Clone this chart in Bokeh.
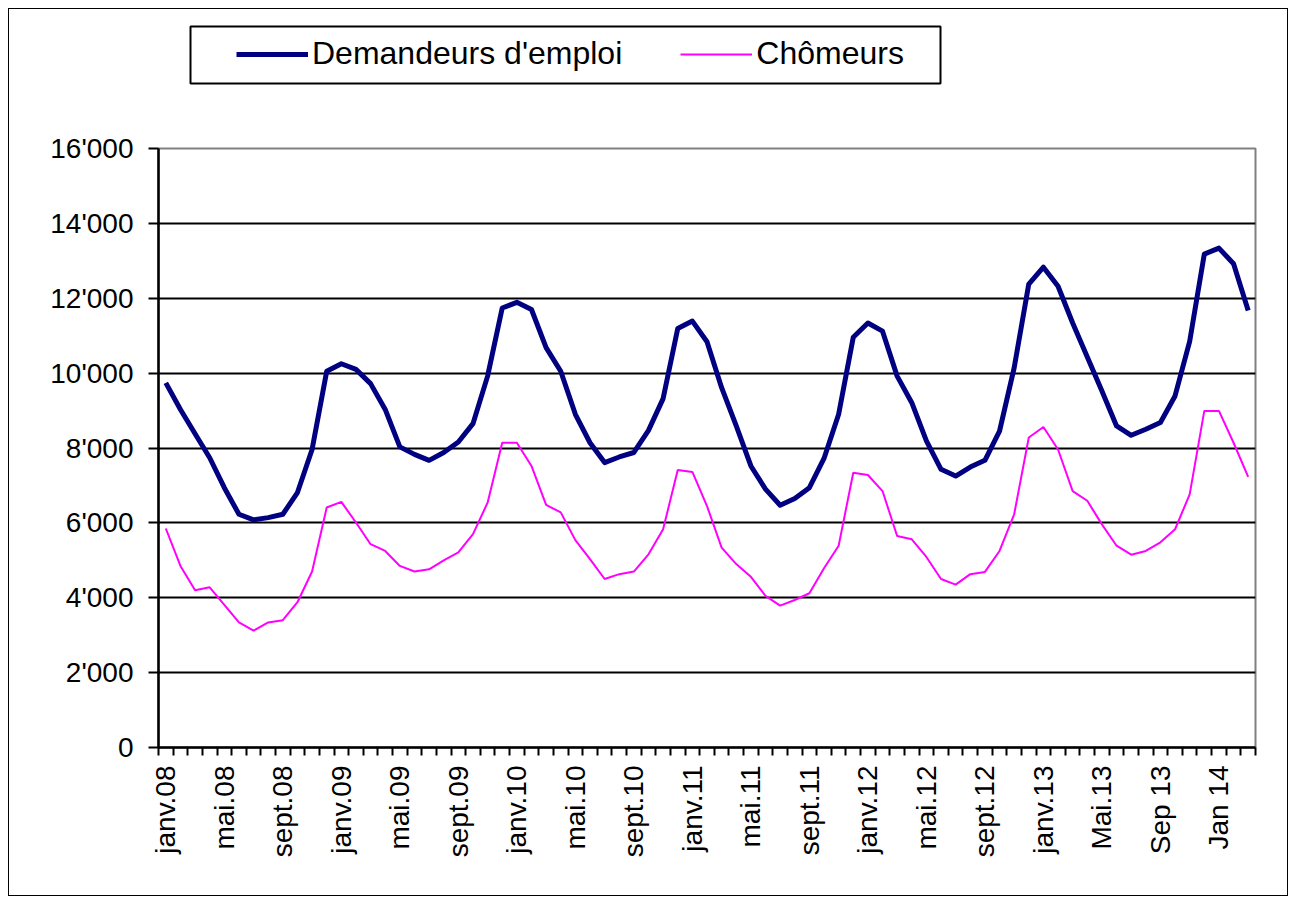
import math
from bokeh.plotting import figure
from bokeh.layouts import column
from bokeh.models import Range1d, FixedTicker, Legend, LegendItem, BoxAnnotation
from bokeh.embed import file_html
from bokeh.resources import INLINE

# ---- data ----
demandeurs = [9740, 9030, 8380, 7740, 6940, 6230, 6080, 6140, 6230, 6810, 7960, 10050,
              10250, 10100, 9720, 9030, 8030, 7830, 7670, 7880, 8160, 8650, 9920, 11740,
              11890, 11700, 10680, 10050, 8900, 8140, 7610, 7760, 7880, 8470, 9320, 11190,
              11390, 10840, 9610, 8590, 7520, 6900, 6470, 6650, 6940, 7720, 8900, 10960,
              11340, 11120, 9920, 9210, 8190, 7430, 7250, 7490, 7670, 8450, 10140, 12380,
              12830, 12320, 11340, 10430, 9520, 8590, 8340, 8500, 8680, 9390, 10850, 13180,
              13340, 12920, 11670]
chomeurs = [5850, 4850, 4200, 4280, 3810, 3340, 3120, 3340, 3400, 3880, 4700, 6410,
            6560, 6010, 5430, 5250, 4850, 4700, 4760, 5000, 5210, 5700, 6540, 8140,
            8140, 7520, 6480, 6280, 5540, 5030, 4500, 4630, 4700, 5160, 5830, 7410,
            7360, 6450, 5340, 4900, 4560, 4050, 3790, 3940, 4120, 4790, 5390, 7340,
            7280, 6850, 5650, 5560, 5090, 4500, 4350, 4630, 4690, 5250, 6230, 8280,
            8560, 7960, 6850, 6590, 5960, 5390, 5150, 5250, 5480, 5830, 6760, 8990,
            8990, 8140, 7230]
x_tick_labels = ["janv.08", "mai.08", "sept.08", "janv.09", "mai.09", "sept.09",
                 "janv.10", "mai.10", "sept.10", "janv.11", "mai.11", "sept.11",
                 "janv.12", "mai.12", "sept.12", "janv.13", "Mai.13", "Sep 13", "Jan 14"]
y_ticks = [0, 2000, 4000, 6000, 8000, 10000, 12000, 14000, 16000]
y_tick_labels = ["0", "2'000", "4'000", "6'000", "8'000", "10'000", "12'000", "14'000", "16'000"]
series_names = ["Demandeurs d'emploi", "Chômeurs"]
series_colors = ["#000080", "#FF00FF"]
series_widths = [5, 2]

n = len(demandeurs)
xs = list(range(n))
label_step = 4
x_major = [i * label_step for i in range(len(x_tick_labels))]

FONT = "Liberation Sans"
W = 1278
TOP_H = 100
MAIN_H = 786

# ---------- legend strip (top) ----------
lg = figure(width=W, height=TOP_H, output_backend="svg", toolbar_location=None,
            x_axis_type=None, y_axis_type=None, min_border=0,
            x_range=Range1d(0, W), y_range=Range1d(0, TOP_H))
lg.frame_align = False
lg.outline_line_color = None
lg.grid.grid_line_color = None
lg.background_fill_color = "white"
lg.border_fill_color = "white"
# the same series, lying outside this strip's range: only their legend glyphs show
d1 = lg.line(xs, demandeurs, line_color=series_colors[0], line_width=series_widths[0])
d2 = lg.line(xs, chomeurs, line_color=series_colors[1], line_width=series_widths[1])
lg.add_layout(BoxAnnotation(left=181, right=931, bottom=26, top=83,
                            fill_alpha=0, line_color="black", line_alpha=1,
                            line_width=2))
legend = Legend(items=[LegendItem(label=series_names[0], renderers=[d1]),
                       LegendItem(label=series_names[1], renderers=[d2])],
                location=(227, 37), orientation="horizontal",
                padding=0, margin=0, spacing=58, glyph_width=72, glyph_height=36,
                label_height=36, label_standoff=4, label_text_font=FONT,
                label_text_font_size="32px", label_text_color="black",
                border_line_alpha=0, background_fill_alpha=0)
lg.add_layout(legend)

# ---------- main chart ----------
p = figure(width=W, height=MAIN_H, output_backend="svg", toolbar_location=None,
           x_range=Range1d(-0.5, n - 0.5), y_range=Range1d(0, 16000),
           min_border_left=149, min_border_right=32, min_border_top=39,
           min_border_bottom=148)
p.frame_align = False
p.background_fill_color = "white"
p.border_fill_color = "white"
p.outline_line_color = "#808080"
p.outline_line_width = 2

p.xaxis.ticker = FixedTicker(ticks=x_major, minor_ticks=[i - 0.5 for i in range(n + 1)])
p.xaxis.major_label_overrides = {t: l for t, l in zip(x_major, x_tick_labels)}
p.xaxis.major_label_orientation = math.pi / 2
p.xaxis.major_tick_out = 0
p.xaxis.major_tick_in = 0
p.xaxis.minor_tick_out = 8
p.xaxis.minor_tick_in = 0
p.xaxis.minor_tick_line_color = "black"
p.xaxis.minor_tick_line_width = 2
p.xaxis.axis_line_color = "black"
p.xaxis.axis_line_width = 2.5
p.xaxis.major_label_standoff = 10
p.xaxis.major_label_text_font = FONT
p.xaxis.major_label_text_font_size = "28px"
p.xaxis.major_label_text_color = "black"

p.yaxis.ticker = FixedTicker(ticks=y_ticks, minor_ticks=[])
p.yaxis.major_label_overrides = {t: l for t, l in zip(y_ticks, y_tick_labels)}
p.yaxis.major_tick_out = 10
p.yaxis.major_tick_in = 0
p.yaxis.major_tick_line_width = 2
p.yaxis.major_tick_line_color = "black"
p.yaxis.axis_line_color = "black"
p.yaxis.axis_line_width = 2.5
p.yaxis.major_label_standoff = 15
p.yaxis.major_label_text_font = FONT
p.yaxis.major_label_text_font_size = "28px"
p.yaxis.major_label_text_color = "black"

p.xgrid.grid_line_color = None
p.ygrid.ticker = FixedTicker(ticks=y_ticks[1:-1])
p.ygrid.grid_line_color = "black"
p.ygrid.grid_line_width = 2

p.line(xs, demandeurs, line_color=series_colors[0], line_width=series_widths[0],
       line_join="round")
p.line(xs, chomeurs, line_color=series_colors[1], line_width=series_widths[1])

layout = column(lg, p, spacing=0,
                styles={"margin": "8px", "border": "1px solid black",
                        "background-color": "white"})

open("out.html", "w").write(file_html(layout, INLINE))
